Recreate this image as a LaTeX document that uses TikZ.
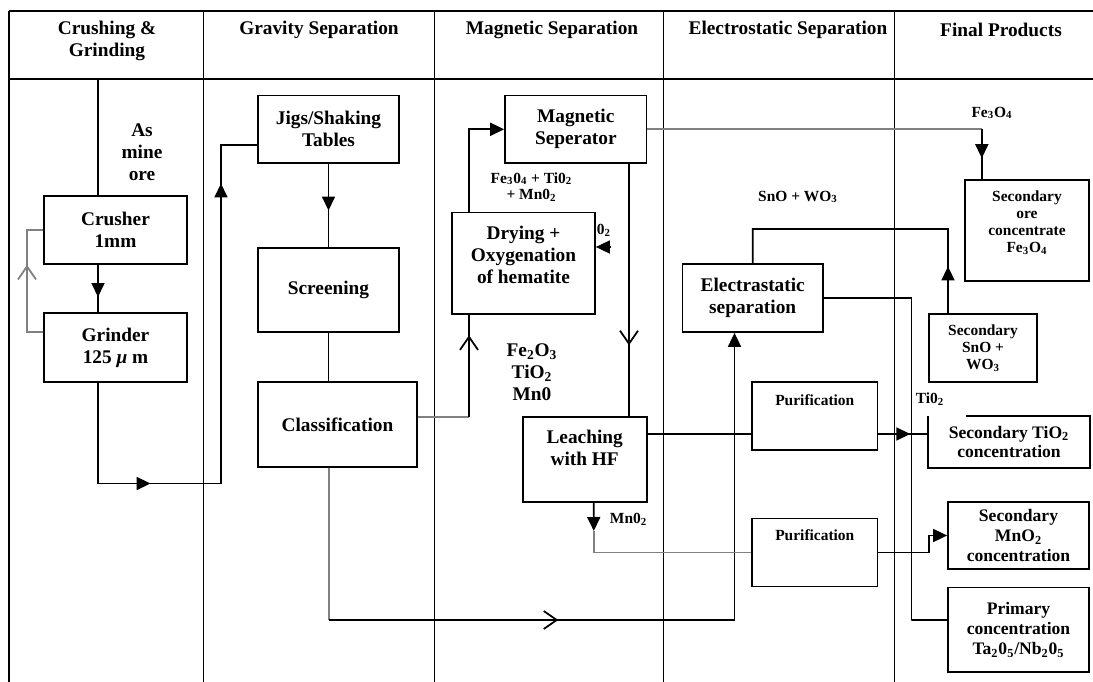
\documentclass[tikz,border=0pt]{standalone}
\usepackage{fontspec}
\setmainfont{Liberation Serif}
\usetikzlibrary{arrows.meta,decorations.markings}

\newcommand\bigtxt{\fontsize{11}{12.5}\selectfont\bfseries}
\newcommand\midtxt{\fontsize{10}{11.3}\selectfont\bfseries}
\newcommand\smalltxt{\fontsize{8.8}{9.6}\selectfont\bfseries}

\tikzset{
	ftip/.tip={Triangle[length=0.28cm,width=0.26cm]},
	vtip/.tip={Straight Barb[length=0.26cm,width=0.36cm]},
	box/.style={draw, line width=1pt, inner sep=1pt, align=center, font=\bigtxt},
	head/.style={align=center, inner sep=0pt, font=\bigtxt},
	lbl/.style={align=center, inner sep=0pt, font=\smalltxt},
	link/.style={line width=1pt},
	greylink/.style={line width=1pt, draw=black!50},
	tipat/.style={postaction={decorate,decoration={markings,mark=at position #1 with {\arrow{ftip}}}}},
	vtipat/.style={postaction={decorate,decoration={markings,mark=at position #1 with {\arrow{vtip}}}}},
}

\begin{document}
\begin{tikzpicture}[x=0.02cm, y=-0.02cm]
		\useasboundingbox (0,0) rectangle (1093,682);
		\draw[link] (9,11) -- (1093,11) (9,79) -- (1093,79);
		\foreach \x in {9,203.5,434.5,663.5,894.5}
			\draw[link] (\x,11) -- (\x,682);

		\node (hcrush) [head] at (107,41) {Crushing \&\\Grinding};
		\node (hgrav) [head] at (319,30) {Gravity Separation};
		\node (hmag) [head] at (552,30) {Magnetic Separation};
		\node (helec) [head] at (788,30) {Electrostatic Separation};
		\node (hfinal) [head] at (1001,30) {Final Products};

		\node (crusher) [box, minimum width=2.86cm, minimum height=1.36cm] at (115.5,230) {Crusher\\1mm};
		\node (grinder) [box, minimum width=2.86cm, minimum height=1.38cm] at (115.5,347.5) {Grinder\\125 \textit{μ} m};
		\node (orelbl) [head] at (142,152) {As\\mine\\ore};
		\node (jigs) [box, minimum width=2.82cm, minimum height=1.35cm] at (328.5,129.3) {Jigs/Shaking\\Tables};
		\node (screen) [box, minimum width=2.82cm, minimum height=1.68cm] at (328.5,290) {Screening};
		\node (classif) [box, minimum width=3.18cm, minimum height=1.7cm] at (337.5,424.5) {Classification};
		\node (magsep) [box, minimum width=2.83cm, minimum height=1.35cm] at (575.8,129.3) {Magnetic\\Seperator};
		\node (drying) [box, minimum width=2.86cm, minimum height=2.03cm, text depth=10pt] at (523.5,263.3) {Drying +\\Oxygenation\\of hematite};
		\node (leach) [box, minimum width=2.48cm, minimum height=1.7cm, text depth=13.5pt] at (584.7,459.5) {Leaching\\with HF};
		\node (elec) [box, minimum width=2.81cm, minimum height=1.36cm] at (752.7,298) {Electrastatic\\separation};
		\node (purif1) [box, font=\smalltxt, minimum width=2.51cm, minimum height=1.36cm, text depth=18pt] at (814.8,416) {Purification};
		\node (purif2) [box, font=\smalltxt, minimum width=2.51cm, minimum height=1.36cm, text depth=20pt] at (814.8,552.5) {Purification};
		\node (orebox) [box, font=\smalltxt, minimum width=2.48cm, minimum height=2.02cm, text depth=10pt] at (1027,230.5) {Secondary\\ore\\concentrate\\Fe\textsubscript{3}O\textsubscript{4}};
		\node (snobox) [box, font=\smalltxt, minimum width=2.16cm, minimum height=1.36cm] at (983,348) {Secondary\\SnO +\\WO\textsubscript{3}};
		\node (tibox) [box, draw=none, font=\midtxt, minimum width=3.2cm, minimum height=1cm] at (1009,442) {Secondary TiO\textsubscript{2}\\concentration};
		\node (mnbox) [box, font=\midtxt, minimum width=2.82cm, minimum height=1.34cm] at (1018.5,535.5) {Secondary\\MnO\textsubscript{2}\\concentration};
		\node (primbox) [box, font=\midtxt, minimum width=2.82cm, minimum height=1.69cm] at (1018.5,629.8) {Primary\\concentration\\Ta\textsubscript{2}0\textsubscript{5}/Nb\textsubscript{2}0\textsubscript{5}};
		\draw[link] ([xshift=0.76cm]tibox.north west) -- (tibox.north east) -- (tibox.south east) -- (tibox.south west) -- (tibox.north west);

		\node (fe3o4) [lbl] at (992,113) {Fe\textsubscript{3}O\textsubscript{4}};
		\node (mixlbl) [lbl] at (531.5,187) {Fe\textsubscript{3}0\textsubscript{4} + Ti0\textsubscript{2}\\+ Mn0\textsubscript{2}};
		\node (oxlbl) [lbl] at (604,230) {0\textsubscript{2}};
		\node (hemlbl) [head] at (532,372) {Fe\textsubscript{2}O\textsubscript{3}\\TiO\textsubscript{2}\\Mn0};
		\node (snolbl) [lbl] at (798,197) {SnO + WO\textsubscript{3}};
		\node (tilbl) [lbl] at (930,399) {Ti0\textsubscript{2}};
		\node (mnlbl) [lbl] at (628.6,519) {Mn0\textsubscript{2}};

		\coordinate (orein) at (98,79);
		\coordinate (gb) at (221,483.5);
		\coordinate (loopc) at (27,332);
		\coordinate (cl2dr) at (469,417);
		\coordinate (clc) at (329,620);
		\coordinate (elc) at (734.5,620);
		\coordinate (magout) at (629,163);
		\coordinate (fec) at (981.8,129.3);
		\coordinate (oxin) at (611,247);
		\coordinate (tiline) at (929,434);
		\coordinate (mnarr) at (593.8,531);
		\coordinate (snoc) at (948,229);
		\coordinate (prbend) at (911.5,620);

		\draw[link] (orein) -- (orein |- crusher.north);
		\draw[link, tipat=0.68] (orein |- crusher.south) -- (orein |- grinder.north);
		\draw[greylink, vtipat=0.62] ([yshift=0.31cm]grinder.west) -- (loopc) |- (crusher.west);
		\draw[link, tipat=0.256, tipat=0.875] (orein |- grinder.south) -- (orein |- gb) -- (gb) |- ([yshift=-0.31cm]jigs.west);
		\draw[link, tipat=0.56] (jigs.south) -- (screen.north);
		\draw[link] (screen.south) -- (screen.south |- classif.north);
		\draw[greylink] ([yshift=0.15cm]classif.east) -- (cl2dr);
		\draw[link, vtipat=0.8] (cl2dr) -- (cl2dr |- drying.south);
		\draw[greylink] ([xshift=-0.17cm]classif.south) -- (clc);
		\draw[link, vtipat=0.331, -{ftip}] (clc) -- (elc) -- (elc |- elec.south);
		\draw[link, -{ftip}] (cl2dr |- drying.north) |- (magsep.west);
		\draw[link, -{ftip}] (oxin) -- (oxin -| drying.east);
		\draw[link, vtipat=0.72] (magout) -- (magout |- leach.north);
		\draw[greylink] (magsep.east) -- (fec);
		\draw[link, tipat=0.58] (fec) -- (fec |- orebox.north);
		\draw[link] (leach.east |- tiline) -- (purif1.west |- tiline);
		\draw[link, tipat=0.63] (purif1.east |- tiline) -- (tiline);
		\draw[link, -{ftip}] ([xshift=0.18cm]leach.south) -- (mnarr);
		\draw[greylink] (mnarr) |- (purif2.west);
		\draw[link, -{ftip}] (purif2.east) -- (tiline |- purif2.east) |- (mnbox.west);
		\draw[link, tipat=0.149] ([xshift=-0.7cm]snobox.north) -- (snoc) -| (elec.north);
		\draw[link] (elec.east) -| (prbend) |- ([yshift=0.2cm]primbox.west);
		\end{tikzpicture}
\end{document}
